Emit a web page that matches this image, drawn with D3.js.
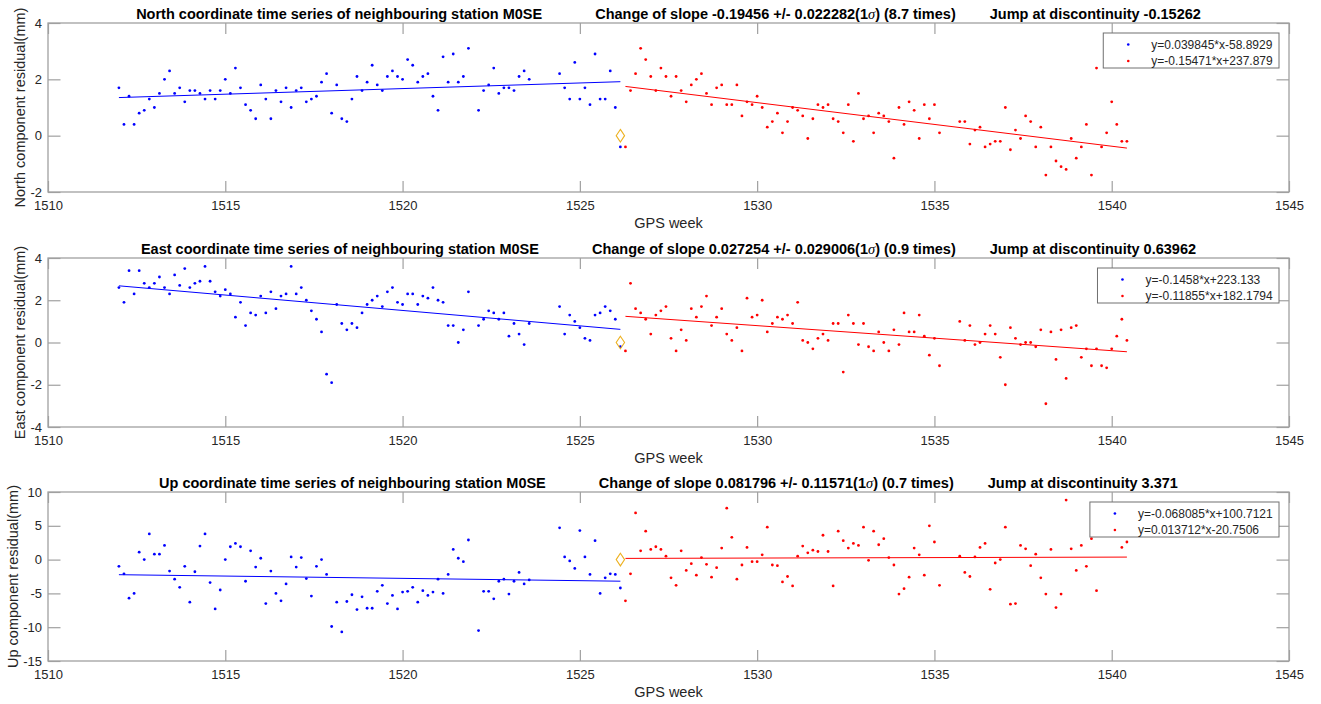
<!DOCTYPE html>
<html><head><meta charset="utf-8">
<script src="https://cdn.jsdelivr.net/npm/d3@7"></script>
<style>
body{margin:0;background:#fff}
text{font-family:"Liberation Sans",Arial,Helvetica,sans-serif}
</style>
</head><body>
<svg id="c" width="1321" height="704"></svg>
<script>
// ---------- DATA ----------
const startWeek = 1512;          // first daily epoch (GPS week)
const breakIndex = 100;          // first epoch after the discontinuity
const discontinuityWeek = 1526.1429;
const xTicks = [1510, 1515, 1520, 1525, 1530, 1535, 1540, 1545];

const northValues = [
 1.7,0.4,1.4,0.4,0.8,0.9,1.3,1.0,1.5,2.0,
 2.3,1.5,1.7,1.2,1.6,1.6,1.5,1.3,1.6,1.3,
 1.6,2.0,1.5,2.4,1.7,1.1,0.9,0.6,1.8,1.3,
 0.6,1.6,1.2,1.7,1.0,1.6,1.7,1.2,1.3,1.4,
 1.9,2.2,0.8,1.8,0.6,0.5,1.3,2.1,1.6,1.9,
 2.5,1.8,1.6,2.1,2.3,2.1,2.0,2.7,2.5,1.9,
 2.1,2.2,1.4,0.9,2.8,1.9,2.9,1.9,2.1,3.1,
 null,0.9,1.6,1.8,2.4,1.5,1.7,1.7,1.6,2.1,
 2.3,2.0,null,null,null,null,null,2.2,1.7,1.3,
 2.6,1.3,1.7,1.1,2.9,1.3,1.3,2.3,1.0,-0.4,
 -0.4,1.6,2.2,3.1,2.7,2.1,1.6,2.4,2.1,1.4,
 2.1,1.6,1.2,1.8,2.0,2.2,1.5,1.1,1.7,1.8,
 1.1,1.1,1.8,0.7,1.2,1.1,1.4,1.0,0.3,0.5,
 0.8,0.1,0.5,1.0,0.9,0.7,-0.1,0.6,1.1,1.0,
 1.1,0.6,0.5,0.1,1.1,-0.2,1.5,0.6,0.7,0.1,
 0.8,0.7,0.5,-0.8,1.0,0.4,1.2,0.9,-0.1,1.1,
 0.6,1.1,0.1,null,null,null,0.5,0.5,-0.3,0.2,
 0.3,-0.4,-0.3,-0.2,-0.2,1.0,-0.5,0.2,-0.1,0.7,
 0.5,-0.4,0.3,-1.4,-0.4,-0.9,-1.1,-1.2,-0.1,-0.8,
 -0.4,0.4,-1.4,2.4,-0.4,0.1,1.2,0.4,-0.2,-0.2
];
const eastValues = [
 2.6,1.9,3.4,2.3,3.4,2.8,2.6,2.8,3.1,2.6,
 2.3,3.2,2.7,3.5,2.6,2.8,2.9,3.6,2.9,2.4,
 2.2,2.5,2.3,1.2,1.9,0.8,1.4,1.3,2.2,1.4,
 2.4,1.6,2.2,2.3,3.6,2.3,2.6,2.0,1.5,1.1,
 0.5,-1.5,-1.9,1.8,0.9,0.6,0.9,0.7,1.4,1.8,
 2.0,2.2,1.7,2.4,2.6,1.9,1.8,2.3,2.3,1.8,
 2.2,2.1,2.6,2.0,1.9,0.8,0.8,0.0,0.6,2.4,
 null,0.8,1.1,1.5,1.4,1.1,1.4,0.3,0.9,0.4,
 -0.1,0.9,null,null,null,null,null,1.7,0.4,1.3,
 1.0,0.7,0.2,0.1,1.3,1.4,1.7,1.5,1.1,-0.2,
 -0.4,2.8,1.6,1.4,1.1,0.4,1.3,1.5,1.7,0.2,
 -0.4,0.6,0.1,1.6,1.2,1.7,2.2,0.8,1.2,1.6,
 0.4,0.1,0.7,-0.4,2.1,1.2,1.3,2.0,0.5,0.9,
 1.2,1.1,1.3,0.9,1.9,0.1,0.0,-0.3,0.2,0.4,
 0.1,0.9,0.9,-1.4,1.3,0.9,-0.1,0.9,-0.2,-0.4,
 0.5,0.0,-0.4,0.6,-0.1,1.4,0.5,0.5,1.3,0.3,
 -0.6,0.2,-1.1,null,null,null,1.0,0.1,0.8,-0.1,
 0.0,0.4,0.8,0.4,-0.7,-2.0,0.7,0.2,-0.1,0.0,
 0.0,-0.2,0.6,-2.9,0.5,-0.8,0.6,-1.7,0.7,0.8,
 -0.7,-0.3,-1.1,-0.3,-1.1,-1.2,-0.3,0.3,1.1,0.1
];
const upValues = [
 -1.0,-2.1,-5.7,-5.0,1.1,0.0,3.8,0.8,0.8,2.1,
 -1.7,-2.9,-4.1,-1.0,-6.3,-1.8,2.0,3.8,-3.4,-7.3,
 -4.5,0.0,1.9,2.4,1.9,-3.2,1.3,-1.1,0.2,-6.5,
 -1.7,-5.0,-6.1,-3.6,0.4,-1.1,0.3,-2.8,-5.4,-1.0,
 0.0,-2.2,-9.9,-6.3,-10.7,-6.2,-5.2,-7.4,-5.5,-7.2,
 -7.2,-4.7,-3.8,-6.5,-5.3,-7.3,-4.8,-4.7,-4.1,-6.3,
 -4.6,-5.3,-4.8,-2.9,-5.0,-2.2,1.5,0.2,-0.3,2.9,
 null,-10.5,-4.7,-4.7,-5.8,-3.2,-2.9,-5.1,-3.2,-1.9,
 -3.6,-3.0,null,null,null,null,null,4.7,0.4,-0.2,
 -1.3,4.3,0.4,-2.2,2.8,-5.0,-2.7,-2.1,-2.2,-4.2,
 -6.1,-2.1,6.9,1.3,4.2,1.5,1.9,1.5,0.5,-2.7,
 -3.8,1.3,-1.6,-0.6,-2.3,0.3,-0.7,-2.6,-1.2,1.7,
 7.6,3.3,-2.9,-0.8,1.8,-0.3,-0.3,0.7,4.8,-0.8,
 -0.9,-3.3,-2.5,-3.9,0.5,2.0,1.0,1.4,1.2,3.6,
 1.2,-3.9,4.2,2.8,1.7,2.4,2.1,4.8,-0.1,4.2,
 2.2,3.1,0.3,-0.8,-5.1,-4.3,-2.6,1.7,0.7,-2.3,
 5.0,2.6,-3.8,null,null,null,0.5,-1.9,-2.5,0.4,
 1.8,2.4,-4.4,-0.5,0.0,4.8,-6.6,-6.5,2.1,1.6,
 -0.9,0.8,-2.7,-5.1,1.5,-7.1,-5.1,8.8,1.6,-1.6,
 2.1,-1.0,3.1,-4.6,null,null,null,null,1.8,2.6
];

const components = ["North", "East", "Up"];
const yDomains = [[-2, 4], [-4, 4], [-15, 10]];
const yTicks = [[-2, 0, 2, 4], [-4, -2, 0, 2, 4], [-15, -10, -5, 0, 5, 10]];
const fitSlopeBefore = [0.039845, -0.1458, -0.068085];
const fitInterceptBefore = [-58.8929, 223.133, 100.7121];
const fitSlopeAfter = [-0.15471, -0.11855, 0.013712];
const fitInterceptAfter = [237.879, 182.1794, -20.7506];
const slopeChange = ["-0.19456", "0.027254", "0.081796"];
const slopeSigma = ["0.022282", "0.029006", "0.11571"];
const slopeRatio = ["8.7", "0.9", "0.7"];
const jumpValue = ["-0.15262", "0.63962", "3.371"];
const stationName = "M0SE";
const xLabel = "GPS week";

// ---------- LAYOUT ----------
const svg = d3.select("#c");
svg.append("rect").attr("width", 1321).attr("height", 704).attr("fill", "#fff");
const left = 48, right = 1289, ph = 169;
const panelTops = [23, 258, 492];
const axisColor = "#a0a0a0", textColor = "#262626";
const x = d3.scaleLinear().domain([1510, 1545]).range([left, right]);
const allValues = [northValues, eastValues, upValues];
const weekOf = i => startWeek + i / 7;

components.forEach((comp, p) => {
  const top = panelTops[p];
  const vals = allValues[p];
  const y = d3.scaleLinear().domain(yDomains[p]).range([top + ph, top]);
  const g = svg.append("g");

  // axes
  const fmt = d => String(d);
  const ax = [
    g.append("g").attr("transform", `translate(0,${top + ph})`)
      .call(d3.axisBottom(x).tickValues(xTicks).tickFormat(fmt).tickSizeInner(-11).tickSizeOuter(0).tickPadding(8.8)),
    g.append("g").attr("transform", `translate(0,${top})`)
      .call(d3.axisTop(x).tickValues(xTicks).tickFormat("").tickSizeInner(-11).tickSizeOuter(0)),
    g.append("g").attr("transform", `translate(${left},0)`)
      .call(d3.axisLeft(y).tickValues(yTicks[p]).tickFormat(fmt).tickSizeInner(-12.5).tickSizeOuter(0).tickPadding(6)),
    g.append("g").attr("transform", `translate(${right},0)`)
      .call(d3.axisRight(y).tickValues(yTicks[p]).tickFormat("").tickSizeInner(-12.5).tickSizeOuter(0))
  ];
  ax.forEach(a => {
    a.select(".domain").remove();
    a.selectAll(".tick line").attr("stroke", axisColor).attr("stroke-width", 1.2);
    a.selectAll(".tick text").attr("fill", textColor).style("font-size", "13px")
      .style("font-family", '"Liberation Sans",Arial,sans-serif');
  });
  let maxTickW = 0;
  ax[2].selectAll(".tick text").each(function () { maxTickW = Math.max(maxTickW, this.getComputedTextLength()); });
  g.append("rect").attr("x", left).attr("y", top).attr("width", right - left).attr("height", ph)
    .attr("fill", "none").attr("stroke", axisColor).attr("stroke-width", 1.3);

  // points
  const pts = vals.map((v, i) => ({i, v})).filter(d => d.v !== null);
  const before = pts.filter(d => d.i < breakIndex), after = pts.filter(d => d.i >= breakIndex);
  const fits = [
    {seg: before, s: fitSlopeBefore[p], b: fitInterceptBefore[p], c: "#0000ff"},
    {seg: after, s: fitSlopeAfter[p], b: fitInterceptAfter[p], c: "#ff0000"}
  ];
  fits.forEach(f => {
    g.append("g").selectAll("circle").data(f.seg).join("circle")
      .attr("cx", d => x(weekOf(d.i))).attr("cy", d => y(d.v)).attr("r", 1.4).attr("fill", f.c);
  });
  fits.forEach(f => {
    const x0 = weekOf(f.seg[0].i), x1 = weekOf(f.seg[f.seg.length - 1].i);
    g.append("line").attr("x1", x(x0)).attr("y1", y(f.s * x0 + f.b))
      .attr("x2", x(x1)).attr("y2", y(f.s * x1 + f.b))
      .attr("stroke", f.c).attr("stroke-width", 1);
  });

  // discontinuity marker
  const dx = x(discontinuityWeek), dy = y(0);
  g.append("path").attr("d", `M${dx},${dy - 6.3}L${dx + 4.2},${dy}L${dx},${dy + 6.3}L${dx - 4.2},${dy}Z`)
    .attr("fill", "none").attr("stroke", "#EDB120").attr("stroke-width", 1.1);

  // legend
  const eq = (s, b) => `y=${s}*x${b >= 0 ? "+" : ""}${b}`;
  const lg = g.append("g");
  const lbox = lg.append("rect");
  const rows = [[eq(fitSlopeBefore[p], fitInterceptBefore[p]), "#0000ff"],
                [eq(fitSlopeAfter[p], fitInterceptAfter[p]), "#ff0000"]];
  const ltop = top + 10;
  const texts = rows.map((r, k) => lg.append("text").attr("y", ltop + 11.5 + k * 16.5)
    .attr("dominant-baseline", "central").style("font-size", "12px").attr("fill", textColor).text(r[0]));
  const tw = d3.max(texts, t => t.node().getComputedTextLength());
  const textLeft = right - 10 - 6.3 - tw;
  const boxLeft = textLeft - 48;
  texts.forEach(t => t.attr("x", textLeft));
  rows.forEach((r, k) => lg.append("circle").attr("cx", boxLeft + 25).attr("cy", ltop + 11.5 + k * 16.5)
    .attr("r", 1.3).attr("fill", r[1]));
  lbox.attr("x", boxLeft).attr("y", ltop).attr("width", right - 10 - boxLeft).attr("height", 35)
    .attr("fill", "#fff").attr("stroke", "#707070").attr("stroke-width", 1);

  // title (three parts, centered as one string)
  const ty = top - 4.5;
  const tstyle = t => t.attr("y", ty).style("font-size", "14.5px").style("font-weight", "bold").attr("fill", "#000");
  const t1 = tstyle(g.append("text")).text(`${comp} coordinate time series of neighbouring station ${stationName}`);
  const t2 = tstyle(g.append("text"));
  t2.append("tspan").text(`Change of slope ${slopeChange[p]} +/- ${slopeSigma[p]}(1`);
  t2.append("tspan").style("font-style", "italic").style("font-weight", "normal")
    .style("font-family", '"Liberation Serif",serif').text("σ");
  t2.append("tspan").text(`) (${slopeRatio[p]} times)`);
  const t3 = tstyle(g.append("text")).text(`Jump at discontinuity ${jumpValue[p]}`);
  const w1 = t1.node().getComputedTextLength(), w2 = t2.node().getComputedTextLength(), w3 = t3.node().getComputedTextLength();
  const g1 = 53, g2 = 34;
  const start = (left + right) / 2 - (w1 + g1 + w2 + g2 + w3) / 2;
  t1.attr("x", start); t2.attr("x", start + w1 + g1); t3.attr("x", start + w1 + g1 + w2 + g2);

  // axis labels
  g.append("text").attr("x", (left + right) / 2).attr("y", top + ph + 36).attr("text-anchor", "middle")
    .style("font-size", "14.5px").attr("fill", textColor).text(xLabel);
  const labelX = left - 6 - maxTickW - 5.5;
  g.append("text").attr("transform", `translate(${labelX},${top + ph / 2}) rotate(-90)`).attr("text-anchor", "middle")
    .style("font-size", "14.5px").attr("fill", textColor).text(`${comp} component residual(mm)`);
});
</script>
</body></html>
